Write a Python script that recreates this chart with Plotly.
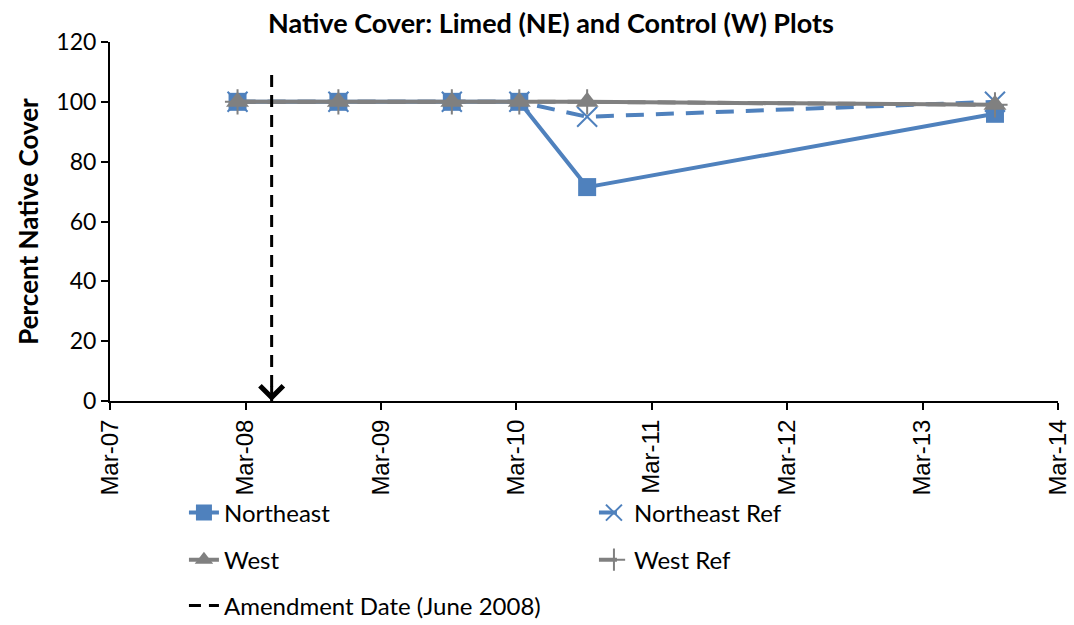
import plotly.graph_objects as go

# Sampling dates and percent native cover per plot
sample_dates = ["2008-02-08", "2008-11-06", "2009-09-08", "2010-03-09", "2010-09-08", "2013-09-12"]
northeast = [100, 100, 100, 100, 71.5, 96]
northeast_ref = [100, 100, 100, 100, 95, 100]
west = [100, 100, 100, 100, 100, 99]
west_ref = [100, 100, 100, 100, 100, 99]

# Lime amendment date marker
amend_date = ["2008-05-10", "2008-05-10"]
amend_span = [109, 0]

tick_dates = ["2007-03-01", "2008-03-01", "2009-03-01", "2010-03-01",
              "2011-03-01", "2012-03-01", "2013-03-01", "2014-03-01"]
tick_labels = ["Mar-07", "Mar-08", "Mar-09", "Mar-10", "Mar-11", "Mar-12", "Mar-13", "Mar-14"]

BLUE = "#4F81BD"
GRAY = "#808080"
FONT = "Lato"

fig = go.Figure()

fig.add_trace(go.Scatter(
    x=sample_dates, y=northeast, name="Northeast", mode="lines+markers",
    line=dict(color=BLUE, width=4),
    marker=dict(symbol="square", size=18, color=BLUE),
    legend="legend",
))
fig.add_trace(go.Scatter(
    x=sample_dates, y=northeast_ref, name="Northeast Ref", mode="lines+markers",
    line=dict(color=BLUE, width=4, dash="18px,12px"),
    marker=dict(symbol="x-thin", size=20, line=dict(color=BLUE, width=2)),
    legend="legend",
))
fig.add_trace(go.Scatter(
    x=sample_dates, y=west, name="West", mode="lines+markers",
    line=dict(color=GRAY, width=4),
    marker=dict(symbol="triangle-up", size=20, color=GRAY),
    legend="legend2",
))
fig.add_trace(go.Scatter(
    x=sample_dates, y=west_ref, name="West Ref", mode="lines+markers",
    line=dict(color=GRAY, width=4, dash="18px,12px"),
    marker=dict(symbol="cross-thin", size=18, line=dict(color=GRAY, width=2)),
    legend="legend2",
))
fig.add_trace(go.Scatter(
    x=amend_date, y=amend_span, name="Amendment Date (June 2008)", mode="lines",
    line=dict(color="black", width=3, dash="12px,8px"),
    legend="legend3",
))

# Arrowhead at the foot of the amendment line
fig.add_annotation(
    x=amend_date[1], y=amend_span[1], xref="x", yref="y",
    text="", showarrow=True, ax=0, ay=-16,
    arrowhead=4, arrowwidth=3, arrowsize=1.5, arrowcolor="black", standoff=0,
)

legend_common = dict(
    orientation="h", xanchor="left", yanchor="middle",
    font=dict(family=FONT, size=24, color="black"),
    bgcolor="rgba(0,0,0,0)", entrywidth=365, x=0.078,
)

fig.update_layout(
    width=1074, height=625,
    margin=dict(l=110, r=16, t=42, b=224, autoexpand=False),
    paper_bgcolor="white", plot_bgcolor="white",
    font=dict(family=FONT, color="black"),
    title=dict(
        text="<b>Native Cover: Limed (NE) and Control (W) Plots</b>",
        x=0.513, xanchor="center", y=0.963, yanchor="middle",
        font=dict(family=FONT, size=27, color="black"),
    ),
    xaxis=dict(
        type="date", range=["2007-03-01", "2014-03-01"],
        tickmode="array", tickvals=tick_dates, ticktext=tick_labels,
        tickangle=-90, tickfont=dict(family="Liberation Sans", size=24, color="black"),
        showline=True, linecolor="black", linewidth=2,
        ticks="outside", ticklen=7, tickwidth=2, tickcolor="black",
        showgrid=False, zeroline=False, automargin=False,
    ),
    yaxis=dict(
        range=[0, 120], dtick=20,
        tickfont=dict(family=FONT, size=23, color="black"),
        showline=True, linecolor="black", linewidth=2,
        ticks="outside", ticklen=7, tickwidth=2, tickcolor="black",
        showgrid=False, zeroline=False, automargin=False,
        title=dict(text="<b>Percent Native Cover</b>",
                   font=dict(family=FONT, size=26, color="black"), standoff=10),
    ),
    legend=dict(legend_common, y=-0.312),
    legend2=dict(legend_common, y=-0.443),
    legend3=dict(legend_common, y=-0.571),
)

fig.write_html("out.html")
